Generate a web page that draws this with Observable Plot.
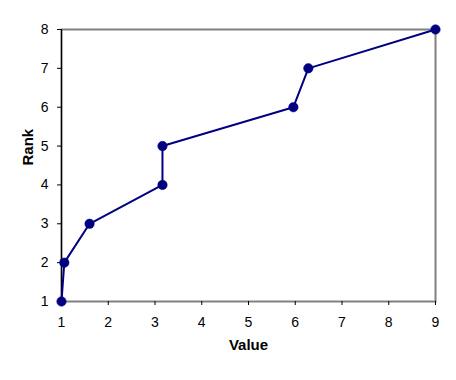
<!DOCTYPE html>
<html>
<head>
<meta charset="utf-8">
<script src="https://cdn.jsdelivr.net/npm/d3@7"></script>
<script src="https://cdn.jsdelivr.net/npm/@observablehq/plot@0.6"></script>
<style>
  html, body { margin: 0; padding: 0; background: #fff; }
  #chart svg { display: block; }
</style>
</head>
<body>
<div id="chart"></div>
<script>
const values = [1.0, 1.06, 1.6, 3.16, 3.16, 5.96, 6.28, 9.0];
const ranks = [1, 2, 3, 4, 5, 6, 7, 8];
const xTicks = [1, 2, 3, 4, 5, 6, 7, 8, 9];
const yTicks = [1, 2, 3, 4, 5, 6, 7, 8];
const xTitle = "Value";
const yTitle = "Rank";

const data = values.map((v, i) => ({value: v, rank: ranks[i]}));
const navy = "#000080";

const chart = Plot.plot({
  width: 456,
  height: 380,
  marginLeft: 61,
  marginRight: 21,
  marginTop: 29,
  marginBottom: 79,
  style: {fontFamily: "Arial, 'Liberation Sans', sans-serif", fontSize: "14px", background: "#fff", color: "#000"},
  x: {domain: [1, 9], nice: false},
  y: {domain: [1, 8], nice: false},
  marks: [
    Plot.frame({stroke: "#808080", strokeWidth: 2}),
    Plot.ruleX([1], {stroke: "#000", strokeWidth: 1.2}),
    Plot.axisX({ticks: xTicks, tickSize: 4, tickPadding: 12, stroke: "#000", fill: "#000", fontSize: 14, label: null, tickFormat: d => String(d)}),
    Plot.axisY({ticks: yTicks, tickSize: 4, tickPadding: 9, stroke: "#000", fill: "#000", fontSize: 14, label: null, tickFormat: d => String(d)}),
    Plot.line(data, {x: "value", y: "rank", stroke: navy, strokeWidth: 2}),
    Plot.dot(data, {x: "value", y: "rank", r: 4.75, fill: navy, stroke: navy, strokeWidth: 0.5}),
    Plot.text([xTitle], {frameAnchor: "bottom", dy: 48, fontWeight: "bold", fontSize: 15, fill: "#000"}),
    Plot.text([yTitle], {frameAnchor: "left", dx: -33, rotate: -90, fontWeight: "bold", fontSize: 15, fill: "#000"})
  ]
});
document.getElementById("chart").appendChild(chart);
</script>
</body>
</html>
